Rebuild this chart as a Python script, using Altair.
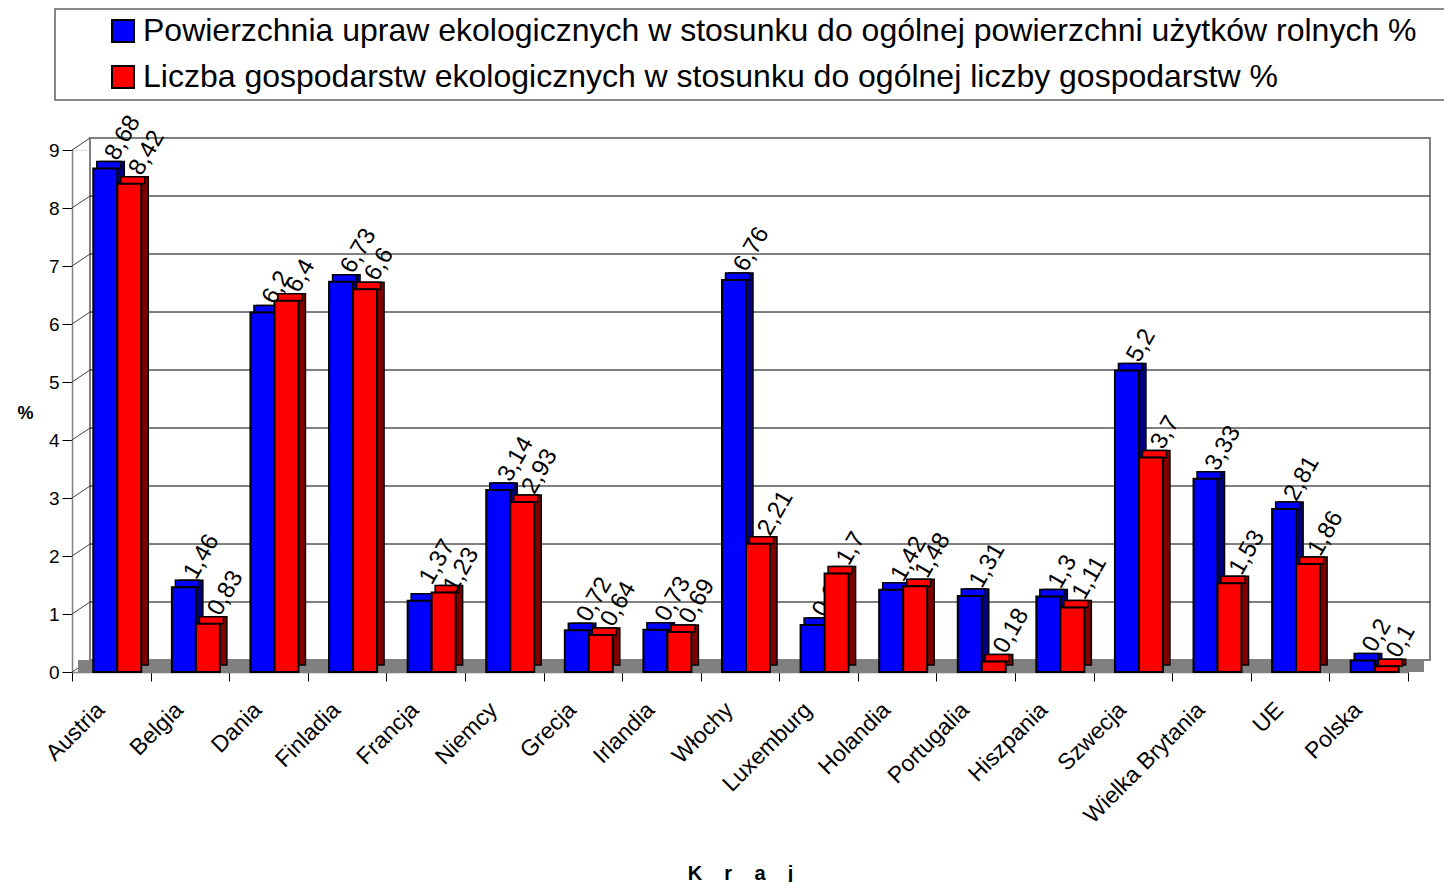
import altair as alt
import pandas as pd

countries = ["Austria", "Belgia", "Dania", "Finladia", "Francja", "Niemcy", "Grecja",
             "Irlandia", "Włochy", "Luxemburg", "Holandia", "Portugalia", "Hiszpania",
             "Szwecja", "Wielka Brytania", "UE", "Polska"]
area_values = [8.68, 1.46, 6.2, 6.73, 1.23, 3.14, 0.72, 0.73, 6.76, 0.81, 1.42, 1.31, 1.3,
               5.2, 3.33, 2.81, 0.2]
farm_values = [8.42, 0.83, 6.4, 6.6, 1.37, 2.93, 0.64, 0.69, 2.21, 1.7, 1.48, 0.18, 1.11,
               3.7, 1.53, 1.86, 0.1]
area_labels = ["8,68", "1,46", "6,2", "6,73", "1,37", "3,14", "0,72", "0,73", "6,76", "0,81",
               "1,42", "1,31", "1,3", "5,2", "3,33", "2,81", "0,2"]
farm_labels = ["8,42", "0,83", "6,4", "6,6", "1,23", "2,93", "0,64", "0,69", "2,21", "1,7",
               "1,48", "0,18", "1,11", "3,7", "1,53", "1,86", "0,1"]
series_names = [
    "Powierzchnia upraw ekologicznych w stosunku do ogólnej powierzchni użytków rolnych %",
    "Liczba gospodarstw ekologicznych w stosunku do ogólnej liczby gospodarstw %",
]
y_ticks = list(range(10))
grid_ticks = list(range(1, 9))
x_title = "\u00a0\u00a0\u00a0\u00a0".join(["K", "r", "a", "j"])

FONT = "Liberation Sans"
W, H = 1336, 522

rows = []
for i, c in enumerate(countries):
    rows.append({"country": c, "series": series_names[0], "value": area_values[i],
                 "label": area_labels[i], "lpos": float(area_labels[i].replace(",", "."))})
    rows.append({"country": c, "series": series_names[1], "value": farm_values[i],
                 "label": farm_labels[i], "lpos": float(farm_labels[i].replace(",", "."))})
df = pd.DataFrame(rows)
df_ticks = pd.DataFrame({"t": y_ticks})
df_grid = pd.DataFrame({"t": grid_ticks})
df_wall = pd.DataFrame({"top": [9], "bot": [0]})

yscale = alt.Scale(domain=[0, 9], nice=False, zero=True)
yaxis = alt.Axis(values=y_ticks, title="%", grid=False, labelFont=FONT, labelFontSize=19,
                 labelColor="black", tickColor="black", tickSize=10, domainColor="#808080",
                 domainWidth=1.5, labelPadding=3, titleAngle=0, titleX=-47, titleY=263,
                 titleFont=FONT, titleFontSize=18, titleFontWeight="bold", titleColor="black",
                 titleAlign="center", titleBaseline="middle")
xscale = alt.Scale(domain=countries, paddingInner=0, paddingOuter=0)
xaxis = alt.Axis(title=x_title, labelAngle=-45, labelFont=FONT, labelFontSize=23,
                 labelColor="black", labelAlign="right", labelBaseline="middle",
                 labelPadding=25, labelOffset=-11, tickBand="extent", tickSize=9,
                 tickColor="black", domainColor="#808080", domainWidth=1.5, titleFont=FONT,
                 titleFontSize=20, titleFontWeight="bold", titleColor="black", titleY=207,
                 titleBaseline="alphabetic", labelOverlap=False)


def Y(field):
    return alt.Y(field, scale=yscale, axis=yaxis)


def X():
    return alt.X("country:N", sort=countries, scale=xscale, axis=xaxis)


color = alt.Color("series:N", scale=alt.Scale(domain=series_names, range=["#0000ff", "#ff0000"]),
                  legend=alt.Legend(title=None, orient="none", legendX=35, legendY=-135,
                                    symbolType="square", symbolSize=484,
                                    symbolStrokeColor="black", symbolStrokeWidth=2,
                                    labelFont=FONT, labelFontSize=32, labelColor="black",
                                    labelLimit=3000, rowPadding=14, labelOffset=4, padding=0))

wall = alt.Chart(df_wall).mark_rect(fill="white", stroke="#808080", strokeWidth=2,
                                    yOffset=-12, y2Offset=-12).encode(
    x=alt.value(18), x2=alt.value(W + 22), y=Y("top:Q"), y2="bot:Q")

side = alt.Chart(df_ticks).mark_rule(color="#404040", strokeWidth=1, y2Offset=-12).encode(
    x=alt.value(0), x2=alt.value(18), y=Y("t:Q"), y2="t:Q")

grid = alt.Chart(df_grid).mark_rule(color="black", strokeWidth=1, yOffset=-12).encode(
    x=alt.value(18), x2=alt.value(W + 22), y=Y("t:Q"))

floor = alt.Chart(df_wall).mark_rect(color="#808080", yOffset=-12).encode(
    x=alt.value(6), x2=alt.value(W + 16), y=Y("bot:Q"), y2="bot:Q")

layers = [wall, side, grid, floor]
specs = [(series_names[0], -6, "#000080", "#0000ff"), (series_names[1], 18, "#800000", "#ff0000")]
for name, off, dark, light in specs:
    base = alt.Chart(df).transform_filter(alt.datum.series == name)
    shadow = base.mark_bar(size=24, xOffset=off + 7, yOffset=-7, y2Offset=-7, color=dark,
                           stroke="black", strokeWidth=1.5).encode(x=X(), y=Y("value:Q"))
    topface = base.mark_bar(size=24, xOffset=off + 3.5, yOffset=-7, color=light,
                            stroke="black", strokeWidth=1.5).encode(
        x=X(), y=Y("value:Q"), y2="value:Q")
    front = base.mark_bar(size=24, xOffset=off, stroke="black", strokeWidth=2,
                          opacity=1).encode(x=X(), y=Y("value:Q"), color=color)
    text = base.mark_text(angle=300, align="left", baseline="middle", dx=12, xOffset=off,
                          font=FONT, fontSize=24, color="black").encode(
        x=X(), y=Y("lpos:Q"), text="label:N")
    layers += [shadow, topface, front, text]

box = alt.Chart(pd.DataFrame({"a": [0]})).mark_rect(filled=False, stroke="#606060",
                                                     strokeWidth=1.5).encode(
    x=alt.value(-17), x2=alt.value(W + 60), y=alt.value(-141), y2=alt.value(-50))
layers.append(box)

chart = alt.layer(*layers).properties(
    width=W, height=H,
    autosize=alt.AutoSizeParams(type="none"),
    padding={"left": 64, "top": 142, "right": 36, "bottom": 210},
).configure_view(stroke=None).configure(background="white")

chart.save("out.html", embed_options={"renderer": "svg", "actions": False})
